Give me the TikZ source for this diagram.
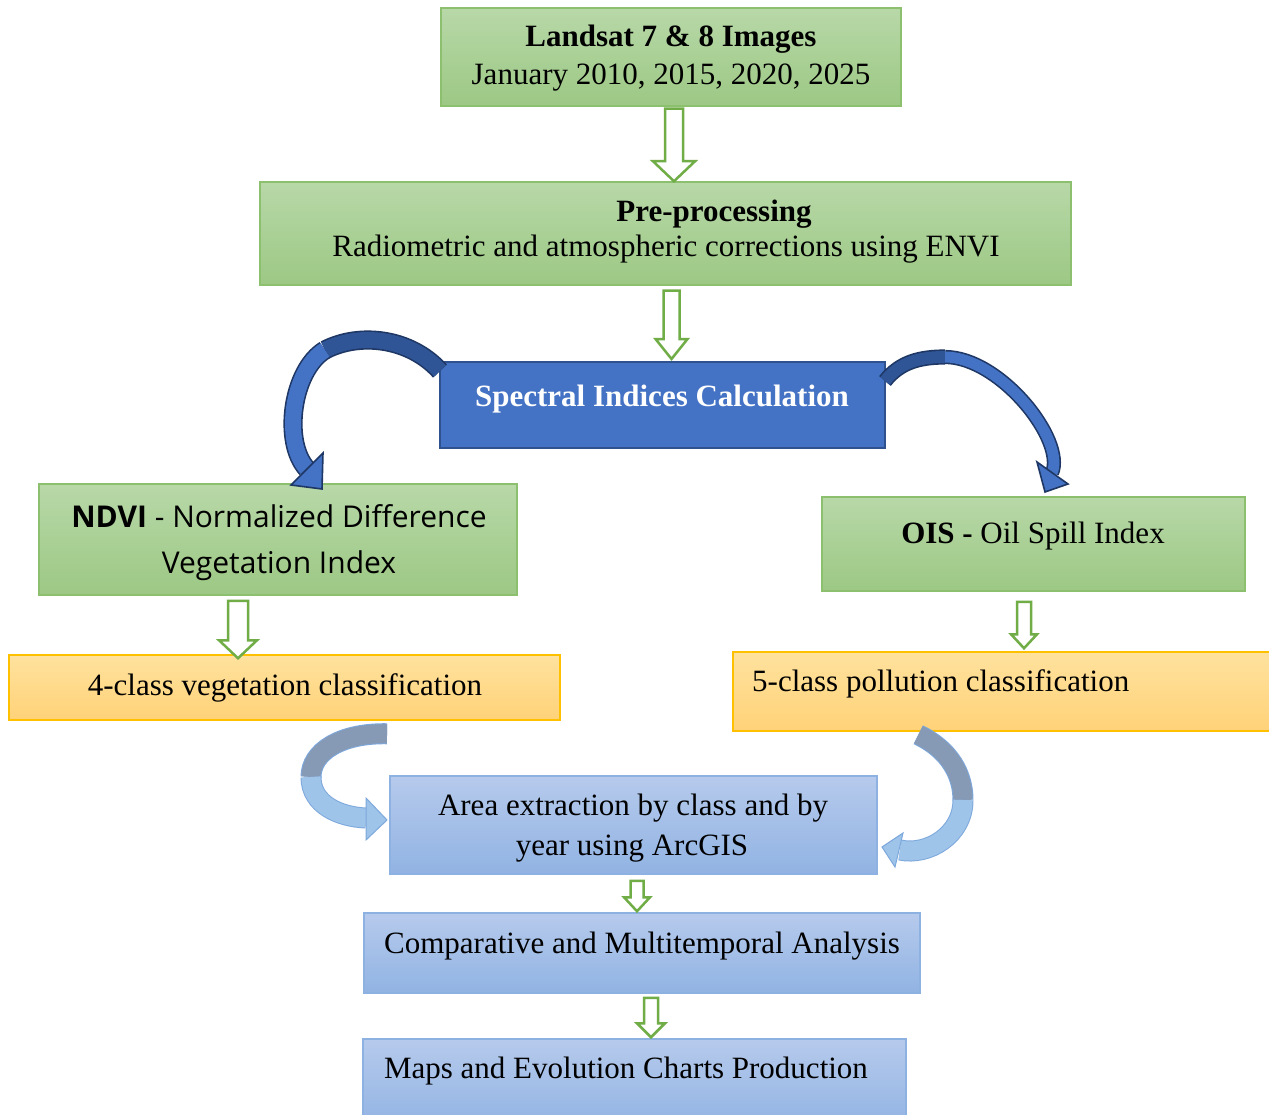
\documentclass[tikz,border=0pt]{standalone}
\usepackage{fontspec}
\setmainfont{Liberation Serif}
\newfontfamily\ndvifont{Open Sans}
\usetikzlibrary{calc}
\definecolor{gTop}{RGB}{184,216,168}
\definecolor{gBot}{RGB}{156,200,132}
\definecolor{gLine}{RGB}{140,192,110}
\definecolor{arrGreen}{RGB}{112,173,71}
\definecolor{specFill}{RGB}{68,114,196}
\definecolor{specLine}{RGB}{47,82,143}
\definecolor{dkLine}{RGB}{30,55,100}
\definecolor{dkBack}{RGB}{47,85,151}
\definecolor{oTop}{RGB}{255,226,158}
\definecolor{oBot}{RGB}{255,210,120}
\definecolor{oLine}{RGB}{255,192,0}
\definecolor{bTop}{RGB}{182,202,236}
\definecolor{bBot}{RGB}{145,179,227}
\definecolor{bLine}{RGB}{141,178,226}
\definecolor{ltFill}{RGB}{158,196,234}
\definecolor{ltBack}{RGB}{134,154,182}
\definecolor{ltLine}{RGB}{125,168,220}
\tikzset{
  gbox/.style={draw=gLine, line width=1.5pt, top color=gTop, bottom color=gBot, rectangle, inner sep=0pt},
  obox/.style={draw=oLine, line width=1.5pt, top color=oTop, bottom color=oBot, rectangle, inner sep=0pt},
  bbox/.style={draw=bLine, line width=1.5pt, top color=bTop, bottom color=bBot, rectangle, inner sep=0pt},
  sbox/.style={draw=specLine, line width=2pt, fill=specFill, rectangle, inner sep=0pt},
  txt/.style={font=\fontsize{31}{36}\selectfont, inner sep=0pt, anchor=base},
  harr/.style={draw=arrGreen, line width=2.5pt, fill=white, line join=miter},
  dkband/.style={draw=dkLine, line width=1.6pt, double=specFill, double distance=16pt},
  dkhead/.style={draw=dkLine, line width=1.6pt, fill=specFill, line join=miter},
  ltband/.style={draw=ltLine, line width=1pt, double=ltFill, double distance=19pt},
  lthead/.style={draw=ltLine, line width=1pt, fill=ltFill, line join=miter}
}
\newcommand\hollowarr[5]{%
  \draw[harr] ($(#1)+(-#3,0)$) -- ($(#2)+(-#3,-#5)$) -- ($(#2)+(-#4,-#5)$) -- (#2)
    -- ($(#2)+(#4,-#5)$) -- ($(#2)+(#3,-#5)$) -- ($(#1)+(#3,0)$) -- cycle;}
\begin{document}
\begin{tikzpicture}[x=1pt,y=-1pt]
\useasboundingbox[fill=white] (0,0) rectangle (1269,1115);

% boxes
\node[gbox, minimum width=460pt, minimum height=98pt] (land) at (671,57) {};
\node[gbox, minimum width=811pt, minimum height=103pt] (pre) at (665.5,233.5) {};
\node[sbox, minimum width=445pt, minimum height=86pt] (spec) at (662.5,405) {};
\node[gbox, minimum width=478pt, minimum height=111pt] (ndvi) at (278,539.5) {};
\node[gbox, minimum width=423pt, minimum height=94pt] (ois) at (1033.5,544) {};
\node[obox, minimum width=551pt, minimum height=65pt] (veg) at (284.5,687.5) {};
\node[obox, minimum width=560pt, minimum height=79pt] (pol) at (1013,691.5) {};
\node[bbox, minimum width=487pt, minimum height=98pt] (area) at (633.5,825) {};
\node[bbox, minimum width=556pt, minimum height=80pt] (comp) at (642,953) {};
\node[bbox, minimum width=543pt, minimum height=90pt] (maps) at (634.5,1084) {};

% texts
\node[txt] (land1) at (671,47) {\bfseries Landsat 7 \& 8 Images};
\node[txt] (land2) at (671,85) {January 2010, 2015, 2020, 2025};
\node[txt] (pre1) at (714,222) {\bfseries Pre-processing};
\node[txt] (pre2) at (666,257) {Radiometric and atmospheric corrections using ENVI};
\node[txt, text=white] (spec1) at (662,406) {\bfseries Spectral Indices Calculation};
\node[txt, font=\ndvifont\fontsize{30}{35}\selectfont] (ndvi1) at (279,527) {\textbf{NDVI} - Normalized Difference};
\node[txt, font=\ndvifont\fontsize{30}{35}\selectfont] (ndvi2) at (279,573) {Vegetation Index};
\node[txt] (ois1) at (1033,543) {\textbf{OIS -} Oil Spill Index};
\node[txt] (veg1) at (285,695) {4-class vegetation classification};
\node[txt, anchor=base west] (pol1) at (752,691) {5-class pollution classification};
\node[txt] (area1) at (633,815) {Area extraction by class and by};
\node[txt] (area2) at (632,855) {year using ArcGIS};
\node[txt] (comp1) at (642,953) {Comparative and Multitemporal Analysis};
\node[txt] (maps1) at (626,1078) {Maps and Evolution Charts Production};

% hollow green arrows
\coordinate (a1s) at ($(land.south)+(3,2)$);
\coordinate (a1e) at (a1s |- pre.north);
\hollowarr{a1s}{a1e}{9}{21}{20}
\coordinate (a2s) at ($(pre.south)+(6,5)$);
\coordinate (a2e) at ($(a2s |- spec.north)+(0,-2)$);
\hollowarr{a2s}{a2e}{8}{16}{20}
\coordinate (a3s) at ($(ndvi.south)+(-40,5)$);
\coordinate (a3e) at ($(a3s |- veg.north)+(0,4)$);
\hollowarr{a3s}{a3e}{10}{19}{18}
\coordinate (a4s) at ($(ois.south)+(-9.5,10)$);
\coordinate (a4e) at ($(a4s |- pol.north)+(0,-3)$);
\hollowarr{a4s}{a4e}{7}{13}{14}
\coordinate (a5s) at ($(area.south)+(3.5,6)$);
\coordinate (a5e) at ($(a5s |- comp.north)+(0,-1)$);
\hollowarr{a5s}{a5e}{6.5}{13}{14}
\coordinate (a6s) at ($(comp.south)+(9,4)$);
\coordinate (a6e) at ($(a6s |- maps.north)+(0,-1)$);
\hollowarr{a6s}{a6e}{7}{14}{14}

% dark curved arrow: spec -> ndvi
\coordinate (dl0) at ($(spec.north west)+(1,10)$);
\coordinate (dl1) at (325,350);
\coordinate (dl2) at (307,469);
\draw[dkband, double=dkBack] (dl0) .. controls (410,338) and (360,332) .. (dl1);
\draw[dkband] (dl1) .. controls (292,370) and (282,442) .. (dl2);
\draw[dkhead] (291,485) -- (323,453) -- (322,489) -- cycle;

% dark curved arrow: spec -> ois
\coordinate (dr0) at ($(spec.north east)+(-1,20)$);
\coordinate (dr1) at (945,357);
\coordinate (dr2) at (1052,473);
\draw[dkband, double distance=12pt, double=dkBack] (dr0) .. controls (900,362) and (920,357) .. (dr1);
\draw[dkband, double distance=11pt] (dr1) .. controls (1000,357) and (1066,440) .. (dr2);
\draw[dkhead] (1037,462) -- (1068,484) -- (1045,492) -- cycle;

% light curved arrow: veg -> area
\coordinate (ll0) at ($(veg.south)+(102.5,13)$);
\coordinate (ll1) at (311,777);
\coordinate (ll2) at (366,818);
\draw[ltband, double=ltBack] (ll0) .. controls (340,733) and (311,752) .. (ll1);
\draw[ltband] (ll1) .. controls (311,805) and (340,817) .. (ll2);
\draw[lthead] (366,798) -- (387,820) -- (366,840) -- cycle;

% light curved arrow: pol -> area
\coordinate (lr0) at ($(pol.south west)+(186,3)$);
\coordinate (lr1) at (963,800);
\coordinate (lr2) at (900,850);
\draw[ltband, double=ltBack] (lr0) .. controls (950,750) and (963,775) .. (lr1);
\draw[ltband] (lr1) .. controls (963,835) and (928,856) .. (lr2);
\draw[lthead] (903,833) -- (882,847) -- (895,867) -- cycle;
\end{tikzpicture}
\end{document}
